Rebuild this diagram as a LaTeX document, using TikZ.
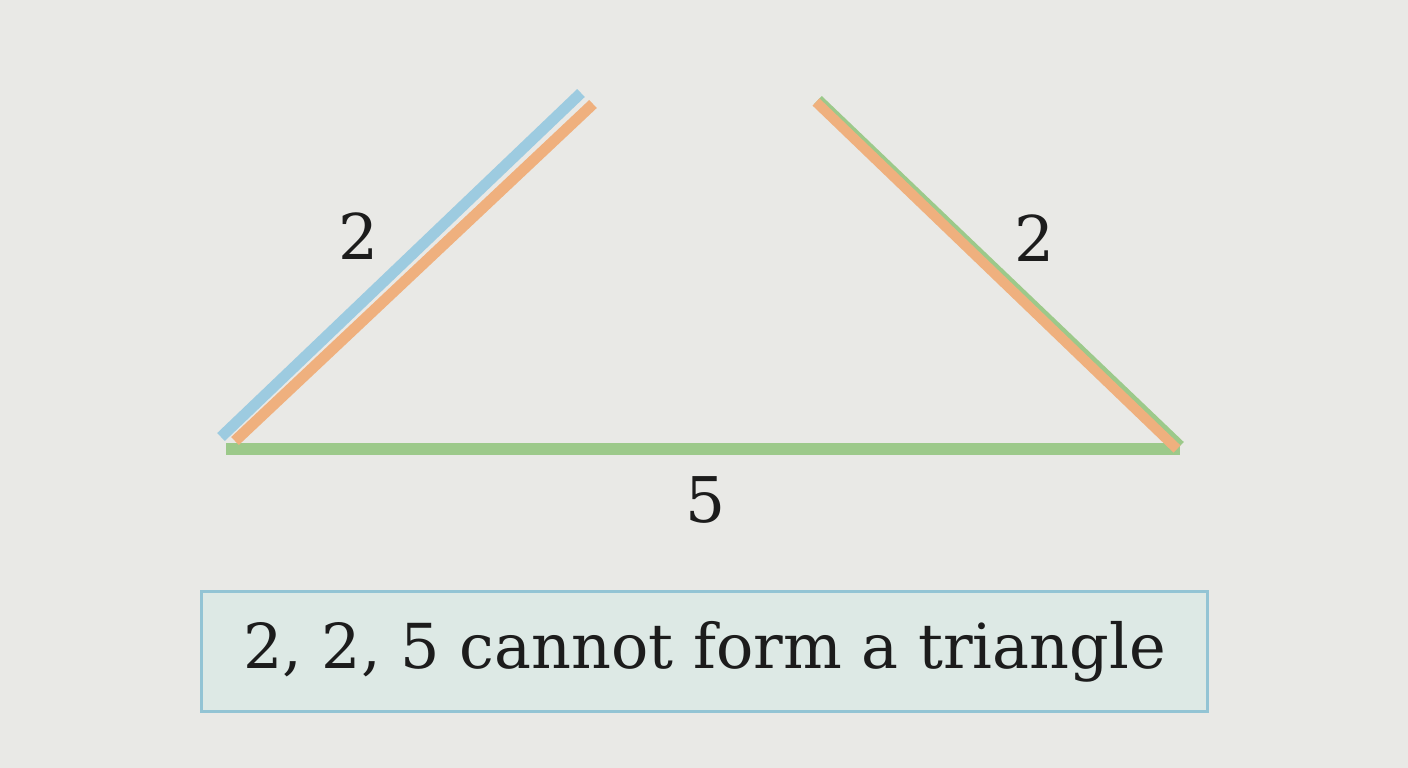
\documentclass[tikz,border=0pt]{standalone}
\usepackage{fontspec}
\setmainfont{DejaVu Serif}
\definecolor{bg}{HTML}{E9E9E6}
\definecolor{stickblue}{HTML}{9DCBE0}
\definecolor{stickorange}{HTML}{EFB07E}
\definecolor{stickgreen}{HTML}{9CC98A}
\definecolor{boxfill}{HTML}{DDE9E5}
\definecolor{boxline}{HTML}{93C4D4}
\definecolor{ink}{HTML}{1C1C1C}
\tikzset{
  stick/.style={line width=11pt, line cap=butt},
  lbl/.style={font=\fontsize{63}{66}\selectfont, text=ink, inner sep=0pt},
  note/.style={draw=boxline, fill=boxfill, line width=2.5pt, minimum width=1006pt, minimum height=120pt, inner sep=0pt,
    font=\fontsize{62}{66}\selectfont, text=ink}
}
\begin{document}
\begin{tikzpicture}[x=1pt,y=-1pt]
\fill[bg] (0,0) rectangle (1408,768);
\useasboundingbox (0,0) rectangle (1408,768);
% base
\coordinate (bL) at (226,448.5);
\coordinate (bR) at (1180,448.5);
\draw[stick, stickgreen, line width=12pt] (bL) -- (bR);
% left sticks
\coordinate (lbA) at (221,437);
\coordinate (lbB) at (581,93);
\coordinate (loA) at (235,441);
\coordinate (loB) at (593,104);
\draw[stick, stickblue] (lbA) -- (lbB);
\draw[stick, stickorange] (loA) -- (loB);
% right stick
\coordinate (rgA) at (818,100);
\coordinate (rgB) at (1180,446);
\coordinate (roA) at (816,102);
\coordinate (roB) at (1177,449);
\draw[stick, stickgreen] (rgA) -- (rgB);
\draw[stick, stickorange, line width=10pt] (roA) -- (roB);
% labels
\node[lbl] (l2) at (359,236) {2};
\node[lbl] (r2) at (1035,238) {2};
\node[lbl] (b5) at (706,500) {5};
% note
\node[note] (msg) at (704.5,651.5) {2, 2, 5 cannot form a triangle};
\end{tikzpicture}
\end{document}
